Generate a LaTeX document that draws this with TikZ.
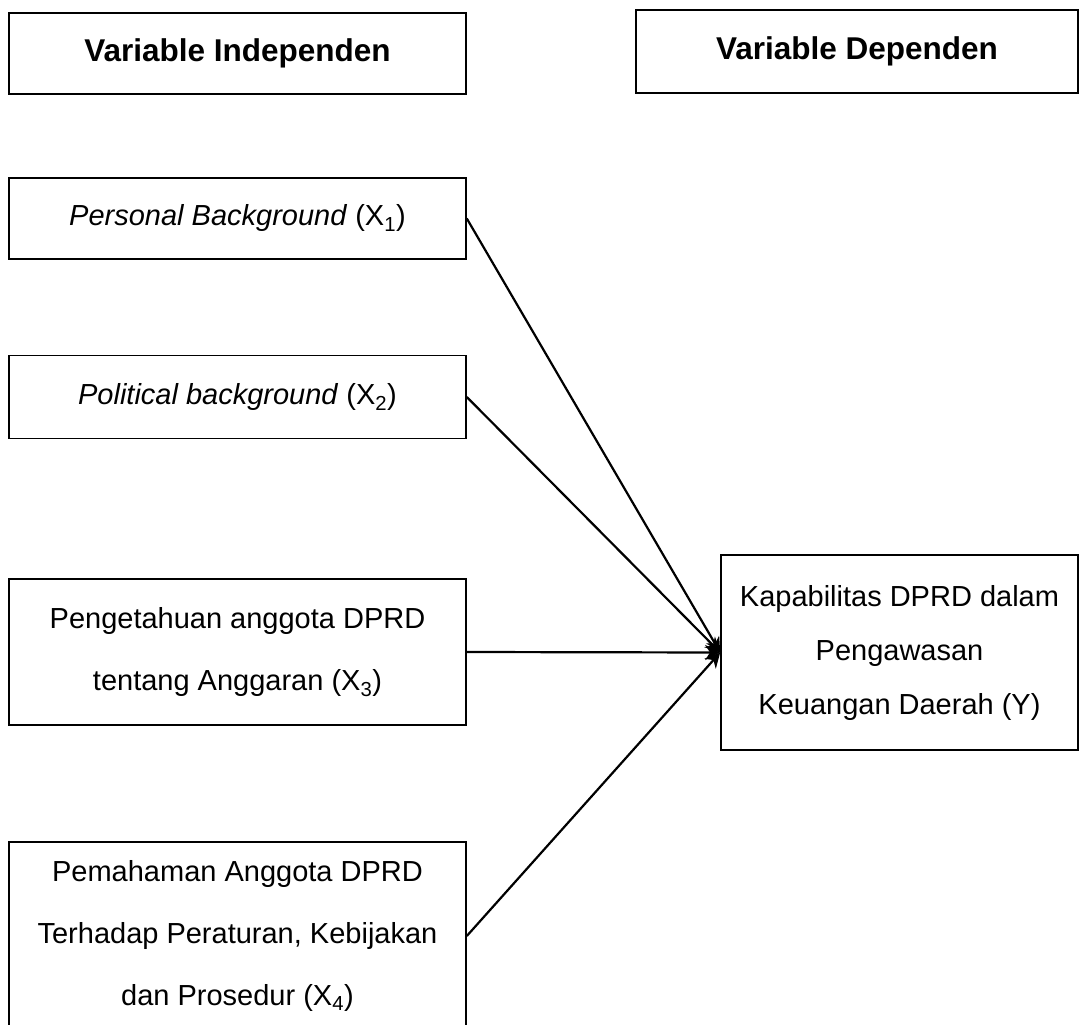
\documentclass[tikz,border=0pt]{standalone}
\usepackage{fontspec}
\setmainfont{Liberation Sans}
\usetikzlibrary{arrows.meta}

\begin{document}
\begin{tikzpicture}[x=1pt,y=-1pt,
	varbox/.style={draw, line width=1.6pt, minimum width=457pt, minimum height=81pt, inner sep=0pt, align=center, font=\fontsize{29}{62}\selectfont},
	headbox/.style={varbox, font=\bfseries\fontsize{31.5}{37}\selectfont},
	link/.style={line width=2.2pt, -{Stealth[length=15pt,width=15pt]}}]
	\useasboundingbox (0,0) rectangle (1088,1025);
	
	% headers
	\node[headbox] (hInd) at (237.5,53.5) {Variable Independen};
	\node[headbox, minimum width=442pt, minimum height=83pt] (hDep) at (857,51.5) {Variable Dependen};
	
	% independent variables
	\node[varbox] (X1) at (237.5,218.5) {\textit{Personal Background} (X\textsubscript{1})};
	\node[varbox, minimum height=83pt] (X2) at (237.5,397) {\textit{Political background} (X\textsubscript{2})};
	\node[varbox, minimum height=146pt] (X3) at (237.5,652) {Pengetahuan anggota DPRD\\tentang Anggaran (X\textsubscript{3})};
	\node[varbox, minimum height=188pt] (X4) at (237.5,936) {Pemahaman Anggota DPRD\\Terhadap Peraturan, Kebijakan\\dan Prosedur (X\textsubscript{4})};
	
	% dependent variable
	\node[varbox, minimum width=357pt, minimum height=195pt, font=\fontsize{29}{54}\selectfont] (Y) at (899.5,652.5) {Kapabilitas DPRD dalam\\Pengawasan\\Keuangan Daerah (Y)};
	
	\foreach \src in {X1,X2,X3,X4}
		\draw[link] (\src.east) -- (Y.west);
\end{tikzpicture}
\end{document}
